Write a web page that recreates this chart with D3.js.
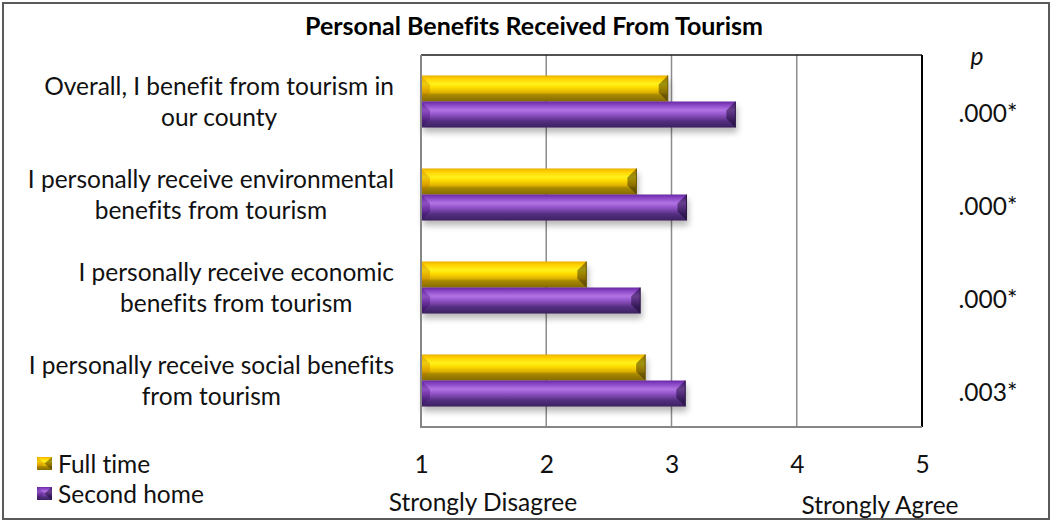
<!DOCTYPE html>
<html>
<head>
<meta charset="utf-8">
<script src="https://cdn.jsdelivr.net/npm/d3@7"></script>
<style>
  html, body { margin: 0; padding: 0; background: #fff; }
  svg { display: block; font-family: Lato, "Open Sans", sans-serif;
        font-variant-ligatures: none; font-feature-settings: "liga" 0; }
</style>
</head>
<body>
<svg id="chart" width="1051" height="521"></svg>
<script>
// Survey statements (top to bottom)
const statements = [
  ["Overall, I benefit from tourism in", "our county"],
  ["I personally receive environmental", "benefits from tourism"],
  ["I personally receive economic", "benefits from tourism"],
  ["I personally receive social benefits", "from tourism"]
];
const seriesNames = ["Full time", "Second home"];
// Mean agreement scores, 1 = Strongly Disagree ... 5 = Strongly Agree
const fullTime   = [2.97, 2.72, 2.32, 2.79];
const secondHome = [3.51, 3.12, 2.75, 3.11];
const pValues = [".000*", ".000*", ".000*", ".003*"];
const tickValues = [1, 2, 3, 4, 5];
const endLabels = ["Strongly Disagree", "Strongly Agree"];
const title = "Personal Benefits Received From Tourism";

const svg = d3.select("#chart");
const W = 1051, H = 521;
const plot = { left: 421, right: 922, top: 55, bottom: 427 };
const labelFont = 24.5;

const x = d3.scaleLinear().domain([1, 5]).range([plot.left, plot.right]);
const cats = statements.map((d, i) => i);
const y = d3.scaleBand().domain(cats).range([plot.top, plot.bottom])
  .paddingInner(0.44).paddingOuter(0.22);
const ySub = d3.scaleBand().domain(seriesNames).range([0, y.bandwidth()]);

const palettes = {
  "Full time": {
    stops: [[0, "#eab000"], [0.12, "#ffd000"], [0.33, "#fff21c"], [0.46, "#ffdc00"],
            [0.66, "#ddb000"], [0.74, "#a88a00"], [1, "#866a00"]],
    left: "rgba(190,110,0,0.30)", right: "rgba(40,30,0,0.45)", edge: "#6e5600"
  },
  "Second home": {
    stops: [[0, "#6a28a4"], [0.12, "#8643c2"], [0.33, "#b274e4"], [0.46, "#9a5ad0"],
            [0.66, "#6c3c9c"], [0.74, "#553082"], [1, "#3c2060"]],
    left: "rgba(60,0,110,0.30)", right: "rgba(10,0,30,0.45)", edge: "#2e1748"
  }
};

const defs = svg.append("defs");
seriesNames.forEach((s, i) => {
  const g = defs.append("linearGradient").attr("id", "grad" + i)
    .attr("x1", 0).attr("y1", 0).attr("x2", 0).attr("y2", 1);
  palettes[s].stops.forEach(st => g.append("stop").attr("offset", st[0]).attr("stop-color", st[1]));
});
defs.append("filter").attr("id", "shadow").attr("x", "-10%").attr("y", "-30%")
  .attr("width", "130%").attr("height", "180%")
  .append("feGaussianBlur").attr("stdDeviation", 3);

// outer frame
svg.append("rect").attr("x", 3).attr("y", 3).attr("width", W - 5).attr("height", H - 5)
  .attr("fill", "#fff").attr("stroke", "#5a5a5a").attr("stroke-width", 2);

// title
svg.append("text").attr("x", 534).attr("y", 35).attr("text-anchor", "middle")
  .attr("font-weight", "bold").attr("font-size", 24).attr("fill", "#000")
  .attr("textLength", 458).attr("lengthAdjust", "spacingAndGlyphs").text(title);

// gridlines
svg.append("g").selectAll("line").data(tickValues.slice(1, -1)).join("line")
  .attr("x1", d => x(d)).attr("x2", d => x(d))
  .attr("y1", plot.top).attr("y2", plot.bottom)
  .attr("stroke", "#8c8c8c").attr("stroke-width", 1.5);

// plot frame
svg.append("line").attr("x1", plot.left).attr("x2", plot.right).attr("y1", plot.top).attr("y2", plot.top)
  .attr("stroke", "#1a1a1a").attr("stroke-width", 1.5);
svg.append("line").attr("x1", plot.right).attr("x2", plot.right).attr("y1", plot.top).attr("y2", plot.bottom)
  .attr("stroke", "#000").attr("stroke-width", 2);

// bars
const rows = cats.map(i => [
  { series: "Full time", si: 0, cat: i, value: fullTime[i] },
  { series: "Second home", si: 1, cat: i, value: secondHome[i] }
]).flat();

function bevelBar(g, x0, y0, x1, y1, si, series, b) {
  const p = palettes[series];
  g.append("rect").attr("x", x0 + 2).attr("y", y0 + 5).attr("width", x1 - x0)
    .attr("height", y1 - y0).attr("fill", "#000").attr("opacity", 0.28)
    .attr("filter", "url(#shadow)");
  g.append("rect").attr("x", x0).attr("y", y0).attr("width", x1 - x0).attr("height", y1 - y0)
    .attr("fill", `url(#grad${si})`);
  g.append("polygon")
    .attr("points", [[x0, y0], [x0 + b, y0 + b], [x0 + b, y1 - b], [x0, y1]].join(" "))
    .attr("fill", p.left);
  g.append("polygon")
    .attr("points", [[x1, y0], [x1 - b, y0 + b], [x1 - b, y1 - b], [x1, y1]].join(" "))
    .attr("fill", p.right);
  g.append("line").attr("x1", x1).attr("x2", x1).attr("y1", y0).attr("y2", y1)
    .attr("stroke", p.edge).attr("stroke-width", 1);
}

const barLayer = svg.append("g");
rows.forEach(d => {
  const y0 = y(d.cat) + ySub(d.series);
  bevelBar(barLayer, x(1), y0, x(d.value), y0 + ySub.bandwidth(), d.si, d.series, 9);
});

// axes (left and bottom, drawn over bars' edges)
svg.append("line").attr("x1", plot.left).attr("x2", plot.left).attr("y1", plot.top).attr("y2", plot.bottom + 1)
  .attr("stroke", "#868686").attr("stroke-width", 2);
svg.append("line").attr("x1", plot.left).attr("x2", plot.right).attr("y1", plot.bottom).attr("y2", plot.bottom)
  .attr("stroke", "#868686").attr("stroke-width", 2);

// tick labels
const xAxis = d3.axisBottom(x).tickValues(tickValues).tickSize(0).tickPadding(0).tickFormat(d3.format("d"));
const axG = svg.append("g").attr("transform", `translate(0,${464})`).call(xAxis);
axG.select(".domain").remove();
axG.selectAll("text").attr("font-size", labelFont).attr("font-family", "Lato, sans-serif")
  .attr("fill", "#111").attr("dy", "0.36em").attr("y", 0);

// scale end descriptions
svg.append("text").attr("x", 483).attr("y", 511).attr("text-anchor", "middle")
  .attr("font-size", labelFont).attr("fill", "#111").text(endLabels[0]);
svg.append("text").attr("x", 880).attr("y", 514).attr("text-anchor", "middle")
  .attr("font-size", labelFont).attr("fill", "#111").text(endLabels[1]);

// category labels: block right-aligned, lines centred within block
const labG = svg.append("g");
statements.forEach((lines, i) => {
  const cy = y(i) + y.bandwidth() / 2;
  const t = labG.append("text").attr("font-size", labelFont).attr("fill", "#111")
    .attr("text-anchor", "middle");
  const spans = lines.map((ln, k) => t.append("tspan").text(ln)
    .attr("y", cy + (k - 0.5) * 31 + labelFont * 0.36));
  const maxW = d3.max(spans, s => s.node().getComputedTextLength());
  spans.forEach(s => s.attr("x", 394 - maxW / 2));
});

// p-values
svg.append("text").attr("x", 977).attr("y", 65).attr("text-anchor", "middle")
  .attr("font-style", "italic").attr("font-size", labelFont).attr("fill", "#111").text("p");
svg.append("g").selectAll("text").data(pValues).join("text")
  .attr("x", 988).attr("y", (d, i) => y(i) + y.bandwidth() / 2 + 12 + labelFont * 0.36)
  .attr("text-anchor", "middle").attr("font-size", labelFont).attr("fill", "#111").text(d => d);

// legend
const leg = svg.append("g");
seriesNames.forEach((s, i) => {
  const ly = 464 + i * 30;
  const p = palettes[s];
  leg.append("rect").attr("x", 37).attr("y", ly - 7).attr("width", 15).attr("height", 13)
    .attr("fill", `url(#grad${i})`);
  leg.append("polygon")
    .attr("points", [[37, ly - 7], [44.5, ly - 0.5], [37, ly + 6]].join(" ")).attr("fill", p.left);
  leg.append("polygon")
    .attr("points", [[52, ly - 7], [44.5, ly - 0.5], [52, ly + 6]].join(" ")).attr("fill", p.right);
  leg.append("text").attr("x", 58).attr("y", ly + labelFont * 0.36).attr("font-size", labelFont)
    .attr("fill", "#111").text(s);
});
</script>
</body>
</html>
